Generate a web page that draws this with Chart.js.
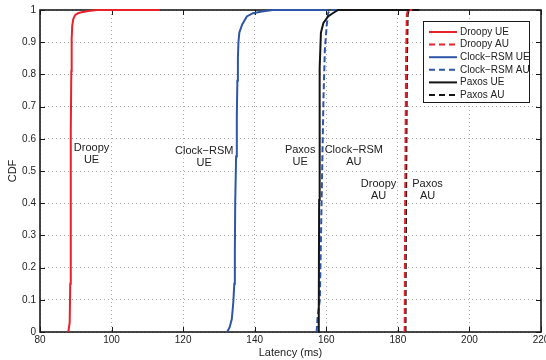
<!DOCTYPE html>
<html>
<head>
<meta charset="utf-8">
<title>Latency CDF</title>
<script src="https://cdn.jsdelivr.net/npm/chart.js@4/dist/chart.umd.min.js"></script>
<style>
  html, body { margin: 0; padding: 0; background: #ffffff; }
  #wrap { width: 546px; height: 360px; }
</style>
</head>
<body>
<div id="wrap"><canvas id="cdf" width="546" height="360"></canvas></div>
<script>
// Latency samples (ms) and cumulative fractions for each protocol / operation type
const droopyUeMs  = [87.9, 88.3, 88.45, 88.55, 88.65, 88.75, 88.85, 89.0, 89.3, 89.8, 90.6, 91.6, 93.5, 96.0, 113.5];
const droopyUeCdf = [0, 0.03, 0.15, 0.44, 0.62, 0.81, 0.91, 0.95, 0.972, 0.984, 0.99, 0.993, 0.997, 1, 1];

const droopyAuMs  = [181.9, 182.0, 182.15, 182.3, 182.5, 182.8, 184.0];
const droopyAuCdf = [0, 0.3, 0.6, 0.85, 0.985, 1, 1];

const clockUeMs  = [132.3, 133.0, 133.6, 134.0, 134.3, 134.45, 134.55, 134.8, 135.0, 135.15, 135.3, 135.45, 135.7, 136.5, 137.8, 139.5, 142.0, 145.0, 160.2];
const clockUeCdf = [0, 0.015, 0.04, 0.09, 0.15, 0.25, 0.40, 0.545, 0.67, 0.78, 0.85, 0.90, 0.93, 0.955, 0.98, 0.99, 0.995, 1, 1];

const clockAuMs  = [157.3, 157.6, 158.2, 158.7, 159.2, 159.6, 160.1, 160.5, 161.0, 165.0];
const clockAuCdf = [0, 0.05, 0.10, 0.41, 0.72, 0.876, 0.95, 0.99, 1, 1];

const paxosUeMs  = [157.8, 157.9, 158.0, 158.1, 158.2, 158.5, 159.2, 160.5, 161.8, 163.3, 186.0];
const paxosUeCdf = [0, 0.05, 0.41, 0.6, 0.82, 0.93, 0.96, 0.98, 0.99, 1, 1];

const paxosAuMs  = [182.15, 182.25, 182.4, 182.55, 182.75, 183.05, 186.0];
const paxosAuCdf = [0, 0.3, 0.6, 0.85, 0.985, 1, 1];

const seriesNames = ['Droopy UE', 'Droopy AU', 'Clock\u2212RSM UE', 'Clock\u2212RSM AU', 'Paxos UE', 'Paxos AU'];

// Axis ticks
const xTicks = [80, 100, 120, 140, 160, 180, 200, 220];
const yTicks = [0, 0.1, 0.2, 0.3, 0.4, 0.5, 0.6, 0.7, 0.8, 0.9, 1];

// In-plot curve labels: [first line, second line, latency, cdf]
const curveLabels = [
  ['Droopy', 'UE', 94.4, 0.554],
  ['Clock\u2212RSM', 'UE', 125.9, 0.543],
  ['Paxos', 'UE', 152.7, 0.548],
  ['Clock\u2212RSM', 'AU', 167.7, 0.547],
  ['Droopy', 'AU', 174.6, 0.44],
  ['Paxos', 'AU', 188.3, 0.44]
];

const RED = '#e8212b', BLUE = '#2f55a8', BLACK = '#141414';

function pts(xs, ys) { return xs.map((x, i) => ({ x: x, y: ys[i] })); }

function line(label, xs, ys, color, dashed, order) {
  return {
    label: label,
    data: pts(xs, ys),
    showLine: true,
    borderColor: color,
    backgroundColor: color,
    borderWidth: 2,
    borderDash: dashed ? [6, 3] : [],
    borderDashOffset: 0,
    pointRadius: 0,
    pointHoverRadius: 0,
    tension: 0,
    fill: false,
    clip: 4,
    order: order
  };
}

Chart.defaults.font.family = "'Liberation Sans', Arial, Helvetica, sans-serif";
Chart.defaults.color = '#222';

// Frame with inward tick marks on all four sides, drawn beneath the curves
const framePlugin = {
  id: 'frame',
  beforeDatasetsDraw(chart) {
    const { ctx, chartArea: a, scales } = chart;
    ctx.save();
    ctx.strokeStyle = '#1a1a1a';
    ctx.lineWidth = 1;
    const tl = 5;
    ctx.beginPath();
    xTicks.forEach(v => {
      const px = Math.round(scales.x.getPixelForValue(v)) + 0.5;
      ctx.moveTo(px, a.bottom); ctx.lineTo(px, a.bottom - tl);
      ctx.moveTo(px, a.top); ctx.lineTo(px, a.top + tl);
    });
    yTicks.forEach(v => {
      const py = Math.round(scales.y.getPixelForValue(v)) + 0.5;
      ctx.moveTo(a.left, py); ctx.lineTo(a.left + tl, py);
      ctx.moveTo(a.right, py); ctx.lineTo(a.right - tl, py);
    });
    ctx.stroke();
    ctx.lineWidth = 1.6;
    ctx.strokeRect(a.left, a.top, a.right - a.left, a.bottom - a.top);
    ctx.restore();
  },
  afterDatasetsDraw(chart) {
    const { ctx, scales } = chart;
    ctx.save();
    ctx.fillStyle = '#222';
    ctx.font = "11px 'Liberation Sans', Arial, sans-serif";
    ctx.textAlign = 'center';
    ctx.textBaseline = 'middle';
    curveLabels.forEach(([l1, l2, xv, yv]) => {
      const px = scales.x.getPixelForValue(xv);
      const py = scales.y.getPixelForValue(yv);
      ctx.fillText(l1, px, py - 6);
      ctx.fillText(l2, px, py + 6);
    });

    // Legend box in the upper right corner
    const bx = 423.5, by = 21.5, bw = 106, bh = 81;
    ctx.fillStyle = '#ffffff';
    ctx.fillRect(bx, by, bw, bh);
    ctx.strokeStyle = '#1a1a1a';
    ctx.lineWidth = 1;
    ctx.strokeRect(bx, by, bw, bh);
    ctx.font = "10px 'Liberation Sans', Arial, sans-serif";
    ctx.textAlign = 'left';
    chart.data.datasets.forEach((ds, i) => {
      const y = 32 + i * 12.6;
      ctx.save();
      ctx.strokeStyle = ds.borderColor;
      ctx.lineWidth = 2;
      ctx.setLineDash(ds.borderDash.length ? [6, 4] : []);
      ctx.beginPath();
      ctx.moveTo(429, y); ctx.lineTo(457, y);
      ctx.stroke();
      ctx.restore();
      ctx.fillStyle = '#222';
      ctx.fillText(ds.label, 460, y);
    });
    ctx.restore();
  }
};

new Chart(document.getElementById('cdf'), {
  type: 'scatter',
  data: {
    datasets: [
      line(seriesNames[0], droopyUeMs, droopyUeCdf, RED, false, 6),
      line(seriesNames[1], droopyAuMs, droopyAuCdf, RED, true, 0),
      line(seriesNames[2], clockUeMs, clockUeCdf, BLUE, false, 4),
      line(seriesNames[3], clockAuMs, clockAuCdf, BLUE, true, 3),
      line(seriesNames[4], paxosUeMs, paxosUeCdf, BLACK, false, 2),
      line(seriesNames[5], paxosAuMs, paxosAuCdf, BLACK, true, 1)
    ]
  },
  options: {
    responsive: false,
    animation: false,
    events: [],
    layout: { padding: { left: 0, right: 5, top: 10, bottom: 0 } },
    plugins: { legend: { display: false }, tooltip: { enabled: false } },
    scales: {
      x: {
        type: 'linear',
        min: 80, max: 220,
        afterBuildTicks: s => { s.ticks = xTicks.map(v => ({ value: v })); },
        afterFit: s => { s.height = 28; s.paddingLeft = 0; s.paddingRight = 0; },
        ticks: { padding: 2, maxRotation: 0, autoSkip: false, color: '#222', font: { size: 10 }, callback: v => String(v) },
        grid: { color: 'rgba(0,0,0,0.33)', lineWidth: 1, drawTicks: false },
        border: { display: false, dash: [1, 3] },
        title: { display: true, text: 'Latency (ms)', color: '#222', font: { size: 11 }, padding: { top: 0, bottom: 0 } }
      },
      y: {
        type: 'linear',
        min: 0, max: 1,
        afterBuildTicks: s => { s.ticks = yTicks.map(v => ({ value: v })); },
        afterFit: s => { s.width = 40; s.paddingTop = 0; s.paddingBottom = 0; },
        ticks: { padding: 4, autoSkip: false, color: '#222', font: { size: 10 }, callback: v => String(Math.round(v * 10) / 10) },
        grid: { color: 'rgba(0,0,0,0.33)', lineWidth: 1, drawTicks: false },
        border: { display: false, dash: [1, 3] },
        title: { display: true, text: 'CDF', color: '#222', font: { size: 11 }, padding: { top: 6, bottom: 0 } }
      }
    }
  },
  plugins: [framePlugin]
});
</script>
</body>
</html>
